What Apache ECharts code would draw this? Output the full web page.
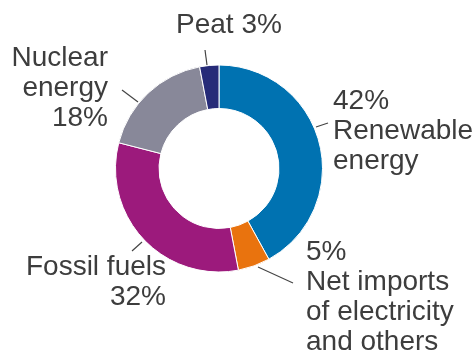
<!DOCTYPE html>
<html>
<head>
<meta charset="utf-8">
<script src="https://cdn.jsdelivr.net/npm/echarts@6/dist/echarts.min.js"></script>
<style>
  html, body { margin: 0; padding: 0; background: #ffffff; }
  #chart { width: 476px; height: 356px; }
</style>
</head>
<body>
<div id="chart"></div>
<script>
// Energy sources, share of total (%), clockwise from the top
const categories = ['Renewable energy', 'Net imports of electricity and others', 'Fossil fuels', 'Nuclear energy', 'Peat'];
const shares = [42, 5, 32, 18, 3];

// How each label reads (value placement per line)
const labelLines = [
  v => [v + '%', 'Renewable', 'energy'],
  v => [v + '%', 'Net imports', 'of electricity', 'and others'],
  v => ['Fossil fuels', v + '%'],
  v => ['Nuclear', 'energy', v + '%'],
  v => ['Peat ' + v + '%']
];

const colors = ['#0072b1', '#e9730e', '#9c1a7c', '#888899', '#262b78'];

// Label box placement and leader line end points
const labelPlacement = [
  { x: 333, y: 86, align: 'left', line: [[316, 127], [328, 123]] },
  { x: 306, y: 237, align: 'left', line: [[258, 267], [293, 283]] },
  { x: 166, y: 252, align: 'right', line: [[142, 242], [132, 251]] },
  { x: 108, y: 43, align: 'right', line: [[138, 102], [122, 90]] },
  { x: 176, y: 10, align: 'left', line: [[207, 65], [205, 50]] }
];

const chart = echarts.init(document.getElementById('chart'), null, { renderer: 'canvas' });

chart.setOption({
  animation: false,
  backgroundColor: '#ffffff',
  series: [{
    type: 'pie',
    center: [219, 168.5],
    radius: [60, 103.5],
    startAngle: 90,
    clockwise: true,
    avoidLabelOverlap: false,
    itemStyle: { borderColor: '#ffffff', borderWidth: 1 },
    label: {
      show: true,
      position: 'outside',
      fontFamily: '"Liberation Sans", Arial, sans-serif',
      fontSize: 28,
      lineHeight: 30,
      color: '#3d3d3d',
      formatter: p => labelLines[p.dataIndex](p.value).join('\n')
    },
    labelLine: {
      show: true,
      length: 10,
      length2: 0,
      lineStyle: { color: '#444444', width: 1.2 }
    },
    labelLayout: p => {
      const s = labelPlacement[p.dataIndex];
      return {
        x: s.x,
        y: s.y,
        align: s.align,
        verticalAlign: 'top',
        labelLinePoints: [s.line[0], s.line[1], s.line[1]]
      };
    },
    emphasis: { disabled: true },
    data: categories.map((name, i) => ({
      name: name,
      value: shares[i],
      itemStyle: { color: colors[i] },
      label: { textAlign: labelPlacement[i].align }
    }))
  }]
});
</script>
</body>
</html>
